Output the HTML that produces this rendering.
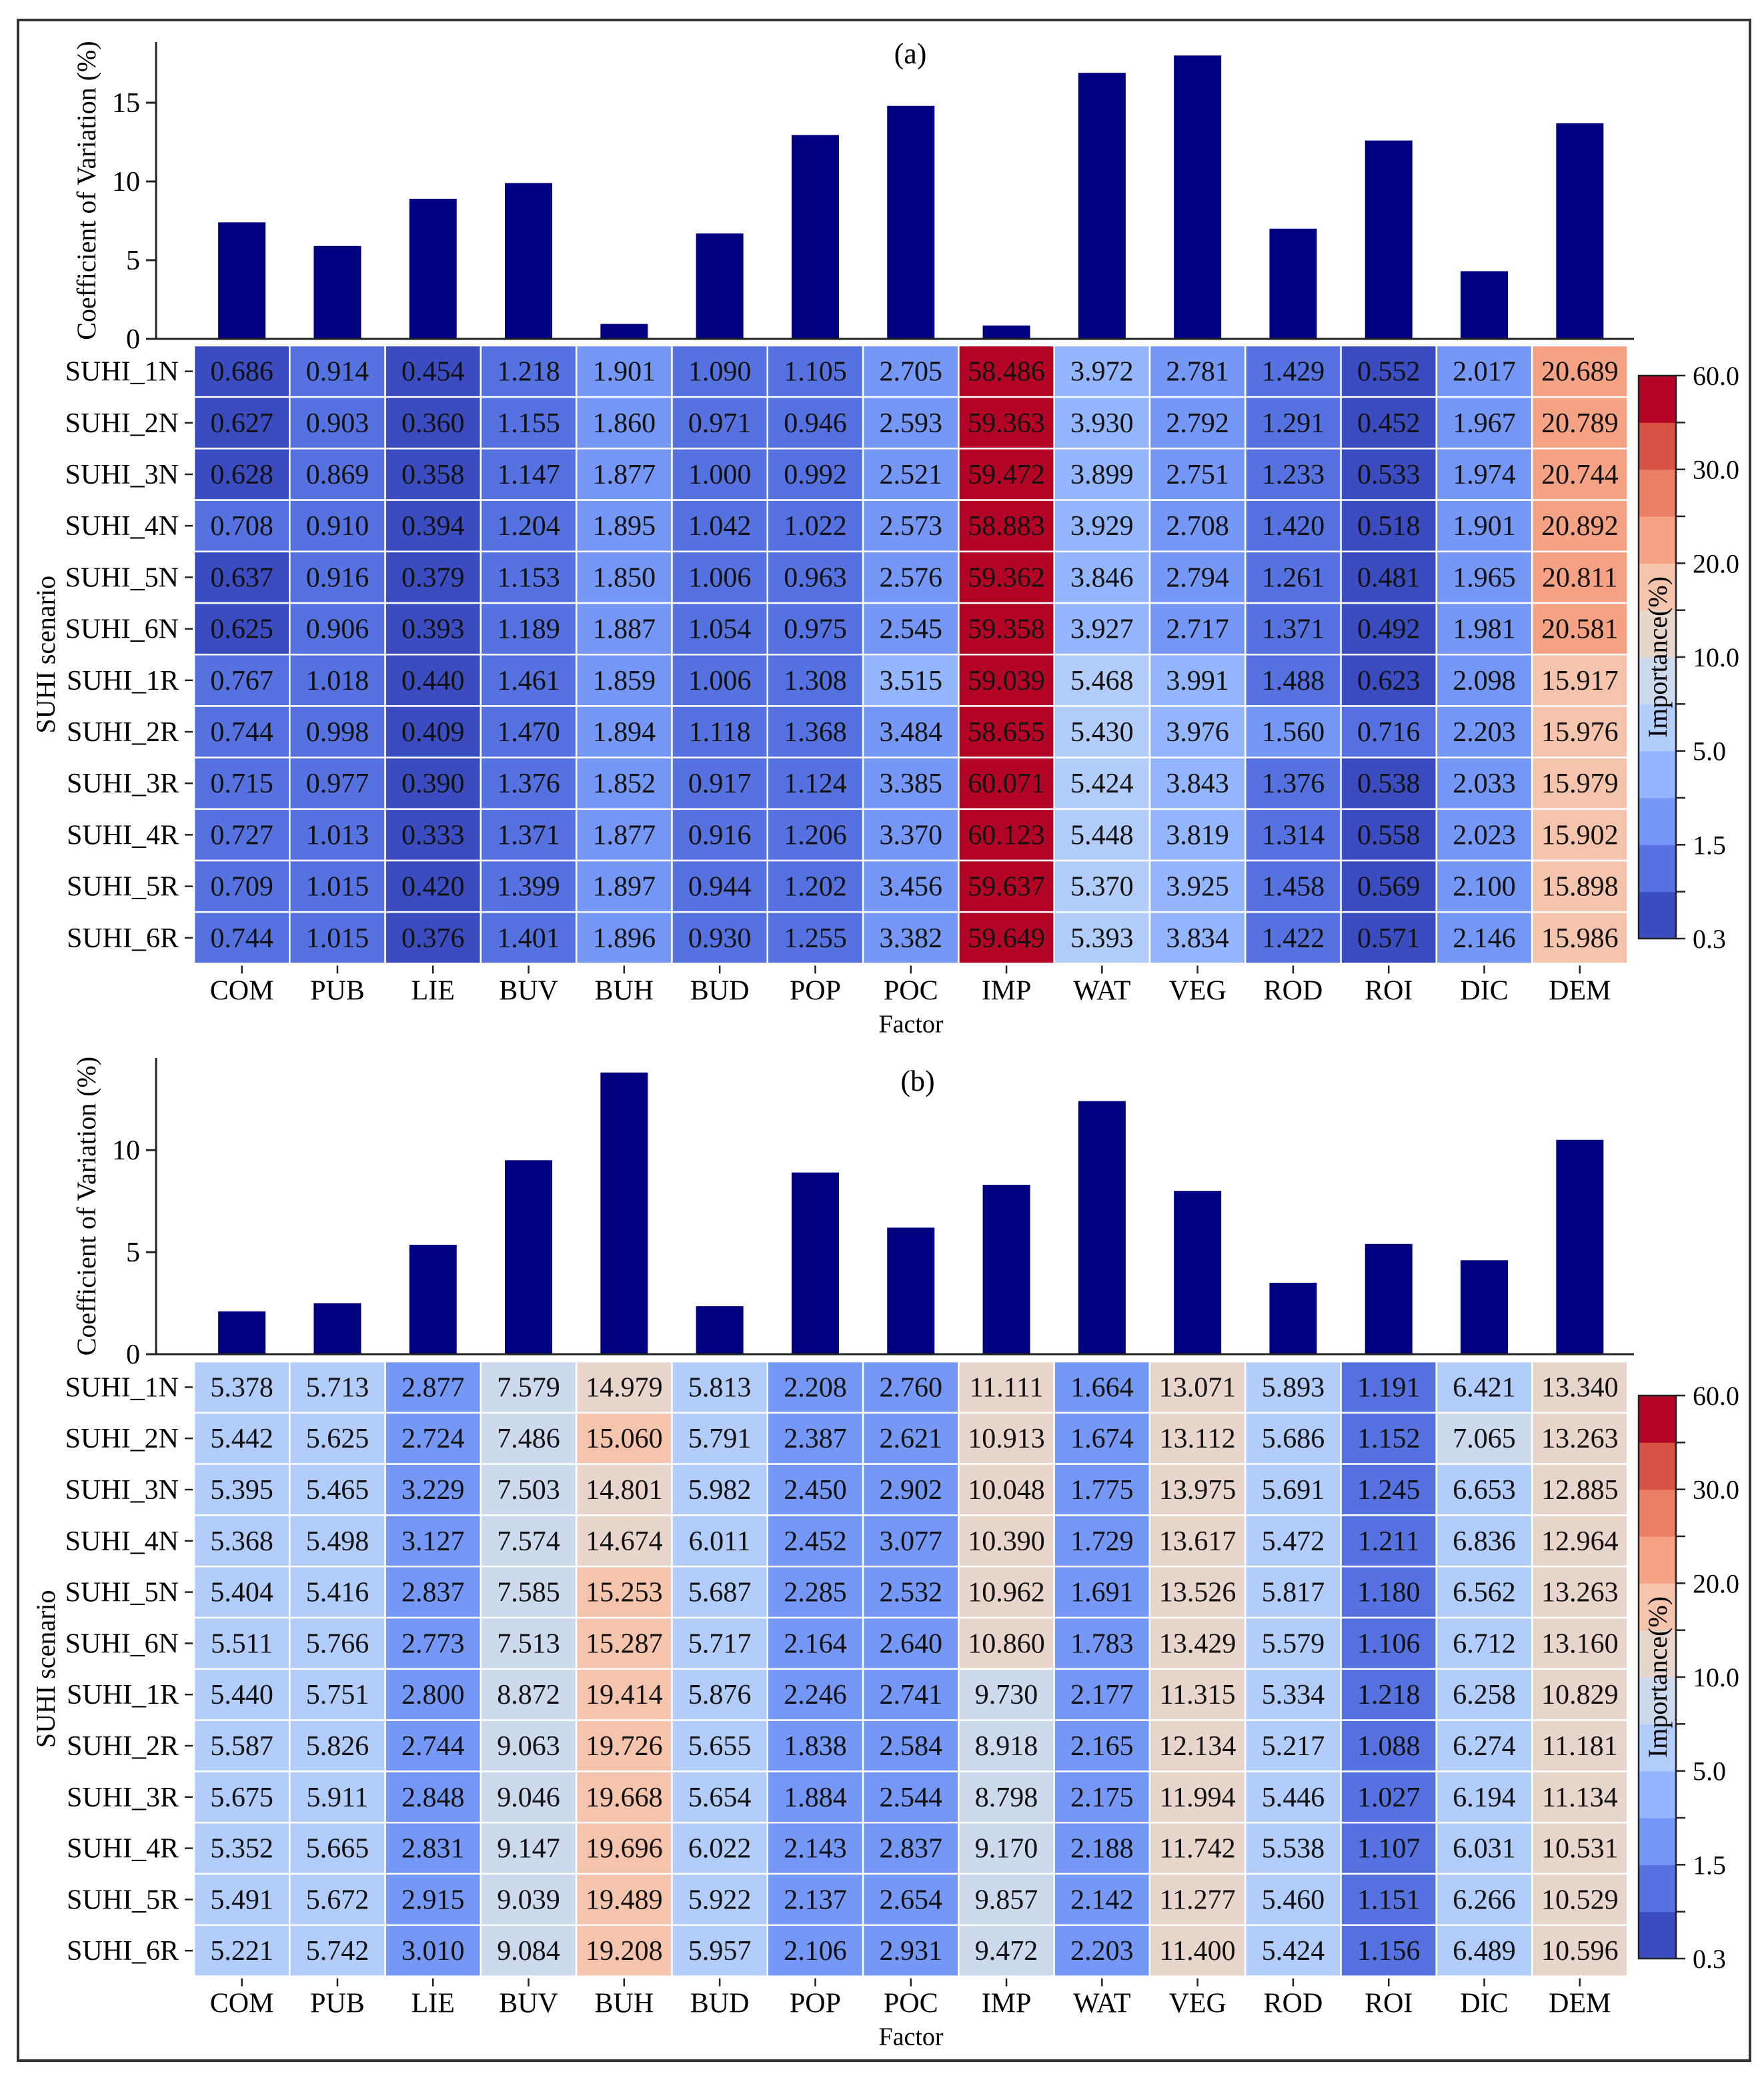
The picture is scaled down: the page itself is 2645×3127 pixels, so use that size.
<!DOCTYPE html>
<html><head><meta charset="utf-8">
<style>
html,body{margin:0;padding:0;background:#fff;}
svg{display:block;font-family:"Liberation Serif",serif;}
</style></head>
<body>
<svg id="fig" width="2645" height="3127" viewBox="0 0 2645 3127" xmlns="http://www.w3.org/2000/svg">
<rect x="27" y="30" width="2597" height="3059" fill="#fff" stroke="#333" stroke-width="4"/>
</svg>
<script>
const factors=["COM","PUB","LIE","BUV","BUH","BUD","POP","POC","IMP","WAT","VEG","ROD","ROI","DIC","DEM"];
const scenarios=["SUHI_1N","SUHI_2N","SUHI_3N","SUHI_4N","SUHI_5N","SUHI_6N","SUHI_1R","SUHI_2R","SUHI_3R","SUHI_4R","SUHI_5R","SUHI_6R"];
const cvA=[7.4,5.9,8.9,9.9,0.95,6.7,12.95,14.8,0.85,16.9,18.0,7.0,12.6,4.3,13.7];
const cvB=[2.1,2.5,5.36,9.5,13.8,2.35,8.9,6.2,8.3,12.4,8.0,3.5,5.4,4.6,10.5];
const ticksA=[0,5,10,15];
const ticksB=[0,5,10];
const impA=[
[0.686,0.914,0.454,1.218,1.901,1.090,1.105,2.705,58.486,3.972,2.781,1.429,0.552,2.017,20.689],
[0.627,0.903,0.360,1.155,1.860,0.971,0.946,2.593,59.363,3.930,2.792,1.291,0.452,1.967,20.789],
[0.628,0.869,0.358,1.147,1.877,1.000,0.992,2.521,59.472,3.899,2.751,1.233,0.533,1.974,20.744],
[0.708,0.910,0.394,1.204,1.895,1.042,1.022,2.573,58.883,3.929,2.708,1.420,0.518,1.901,20.892],
[0.637,0.916,0.379,1.153,1.850,1.006,0.963,2.576,59.362,3.846,2.794,1.261,0.481,1.965,20.811],
[0.625,0.906,0.393,1.189,1.887,1.054,0.975,2.545,59.358,3.927,2.717,1.371,0.492,1.981,20.581],
[0.767,1.018,0.440,1.461,1.859,1.006,1.308,3.515,59.039,5.468,3.991,1.488,0.623,2.098,15.917],
[0.744,0.998,0.409,1.470,1.894,1.118,1.368,3.484,58.655,5.430,3.976,1.560,0.716,2.203,15.976],
[0.715,0.977,0.390,1.376,1.852,0.917,1.124,3.385,60.071,5.424,3.843,1.376,0.538,2.033,15.979],
[0.727,1.013,0.333,1.371,1.877,0.916,1.206,3.370,60.123,5.448,3.819,1.314,0.558,2.023,15.902],
[0.709,1.015,0.420,1.399,1.897,0.944,1.202,3.456,59.637,5.370,3.925,1.458,0.569,2.100,15.898],
[0.744,1.015,0.376,1.401,1.896,0.930,1.255,3.382,59.649,5.393,3.834,1.422,0.571,2.146,15.986]];
const impB=[
[5.378,5.713,2.877,7.579,14.979,5.813,2.208,2.760,11.111,1.664,13.071,5.893,1.191,6.421,13.340],
[5.442,5.625,2.724,7.486,15.060,5.791,2.387,2.621,10.913,1.674,13.112,5.686,1.152,7.065,13.263],
[5.395,5.465,3.229,7.503,14.801,5.982,2.450,2.902,10.048,1.775,13.975,5.691,1.245,6.653,12.885],
[5.368,5.498,3.127,7.574,14.674,6.011,2.452,3.077,10.390,1.729,13.617,5.472,1.211,6.836,12.964],
[5.404,5.416,2.837,7.585,15.253,5.687,2.285,2.532,10.962,1.691,13.526,5.817,1.180,6.562,13.263],
[5.511,5.766,2.773,7.513,15.287,5.717,2.164,2.640,10.860,1.783,13.429,5.579,1.106,6.712,13.160],
[5.440,5.751,2.800,8.872,19.414,5.876,2.246,2.741,9.730,2.177,11.315,5.334,1.218,6.258,10.829],
[5.587,5.826,2.744,9.063,19.726,5.655,1.838,2.584,8.918,2.165,12.134,5.217,1.088,6.274,11.181],
[5.675,5.911,2.848,9.046,19.668,5.654,1.884,2.544,8.798,2.175,11.994,5.446,1.027,6.194,11.134],
[5.352,5.665,2.831,9.147,19.696,6.022,2.143,2.837,9.170,2.188,11.742,5.538,1.107,6.031,10.531],
[5.491,5.672,2.915,9.039,19.489,5.922,2.137,2.654,9.857,2.142,11.277,5.460,1.151,6.266,10.529],
[5.221,5.742,3.010,9.084,19.208,5.957,2.106,2.931,9.472,2.203,11.400,5.424,1.156,6.489,10.596]];
const cbBounds=[0.3,0.7,1.5,3.5,5,7,10,15,20,25,30,45,60];
const cbLabels=["0.3","","1.5","","5.0","","10.0","","20.0","","30.0","","60.0"];
const cbColors=["#3b4cc0","#5672e0","#7597f6","#94b6ff","#b3cdfb","#cdd9ec","#e8d6cc","#f5c4ac","#f6a385","#ec7f63","#d65244","#b40426"];

const NS="http://www.w3.org/2000/svg";
const svg=document.getElementById('fig');
function mk(tag,attrs,parent,text){const e=document.createElementNS(NS,tag);for(const k in attrs)e.setAttribute(k,attrs[k]);if(text!==undefined)e.textContent=text;(parent||svg).appendChild(e);return e;}
const X0=291,CW=143.3,BARW=71,FS=42;
function colX(i){return X0+CW*i;}
function band(v){for(let i=0;i<cbColors.length;i++){if(v<cbBounds[i+1])return i;}return cbColors.length-1;}

function panel(p){
  const g=mk('g',{});
  
  
  const yv=v=>p.base-v*p.ppu;
  const bg=mk('g',{},g);
  
  
  p.cv.forEach((v,i)=>{
    const r=mk('rect',{x:colX(i)+CW/2-BARW/2,y:yv(v),width:BARW,height:v*p.ppu,fill:'#000080'},bg);
    
    
  });
  const ax=mk('line',{x1:234,y1:p.axTop,x2:234,y2:p.base+1.5,stroke:'#222','stroke-width':3},g);
  
  
  const bx=mk('line',{x1:219,y1:p.base,x2:2450,y2:p.base,stroke:'#222','stroke-width':3},g);
  
  
  p.ticks.forEach(t=>{
    mk('line',{x1:219,y1:yv(t),x2:234,y2:yv(t),stroke:'#222','stroke-width':3},g);
    const tl=mk('text',{x:210,y:yv(t)+14,'text-anchor':'end','font-size':FS},g,String(t));
    
    
  });
  const yt=mk('text',{x:0,y:0,'text-anchor':'middle','font-size':40,transform:`translate(143,${(p.axTop+p.base)/2}) rotate(-90)`},g,'Coefficient of Variation (%)');
  
  
  const ti=mk('text',{x:p.titleX,y:p.titleY,'text-anchor':'middle','font-size':44},g,p.title);
  
  
  const hg=mk('g',{},g);
  
  
  const RH=p.rh;
  p.data.forEach((row,r)=>{
    row.forEach((v,c)=>{
      const x=colX(c),y=p.hTop+RH*r;
      const cell=mk('rect',{x:x,y:y,width:CW,height:RH,fill:cbColors[band(v)],stroke:'#fff','stroke-width':2.5},hg);
      
      
      const t=mk('text',{x:x+CW/2,y:y+RH/2+14,'text-anchor':'middle','font-size':FS,fill:'#111'},hg,v.toFixed(3));
      
      
    });
    const yc=p.hTop+RH*r+RH/2;
    mk('line',{x1:277,y1:yc,x2:289,y2:yc,stroke:'#222','stroke-width':2.5},g);
    const l=mk('text',{x:268,y:yc+14,'text-anchor':'end','font-size':FS},g,scenarios[r]);
    
    
  });
  const hb=p.hTop+RH*p.data.length;
  factors.forEach((f,i)=>{
    const xc=colX(i)+CW/2;
    mk('line',{x1:xc,y1:hb+3,x2:xc,y2:hb+15,stroke:'#222','stroke-width':2.5},g);
    const l=mk('text',{x:xc,y:hb+54,'text-anchor':'middle','font-size':FS},g,f);
    
    
  });
  const fx=mk('text',{x:1366,y:hb+103,'text-anchor':'middle','font-size':38},g,'Factor');
  
  
  const sy=mk('text',{x:0,y:0,'text-anchor':'middle','font-size':40,transform:`translate(82,${(p.hTop+hb)/2}) rotate(-90)`},g,'SUHI scenario');
  
  
  const cg=mk('g',{},g);
  
  
  const n=cbColors.length,ch=(p.cbBot-p.cbTop)/n;
  cbColors.forEach((c,i)=>{
    const r=mk('rect',{x:2457,y:p.cbBot-ch*(i+1),width:56,height:ch+0.5,fill:c},cg);
    
    
  });
  mk('rect',{x:2457,y:p.cbTop,width:56,height:p.cbBot-p.cbTop,fill:'none',stroke:'#222','stroke-width':2.5},cg);
  cbLabels.forEach((lab,i)=>{
    const y=p.cbBot-ch*i;
    mk('line',{x1:2513,y1:y,x2:2527,y2:y,stroke:'#222','stroke-width':2.5},cg);
    if(lab){const t=mk('text',{x:2538,y:y+14,'font-size':40},cg,lab);
      
      }
  });
  const ct=mk('text',{x:0,y:0,'text-anchor':'middle','font-size':40,transform:`translate(2499,${(p.cbTop+p.cbBot)/2}) rotate(-90)`},cg,'Importance(%)');
  
  
}
panel({id:'a',title:'(a)',titleX:1365,titleY:95,cv:cvA,ticks:ticksA,base:508,ppu:23.6,axTop:63,data:impA,hTop:518,rh:77.2,cbTop:563,cbBot:1407});
panel({id:'b',title:'(b)',titleX:1376,titleY:1635,cv:cvB,ticks:ticksB,base:2030,ppu:30.6,axTop:1586,data:impB,hTop:2041,rh:76.8,cbTop:2092,cbBot:2936});
</script>
</body></html>
